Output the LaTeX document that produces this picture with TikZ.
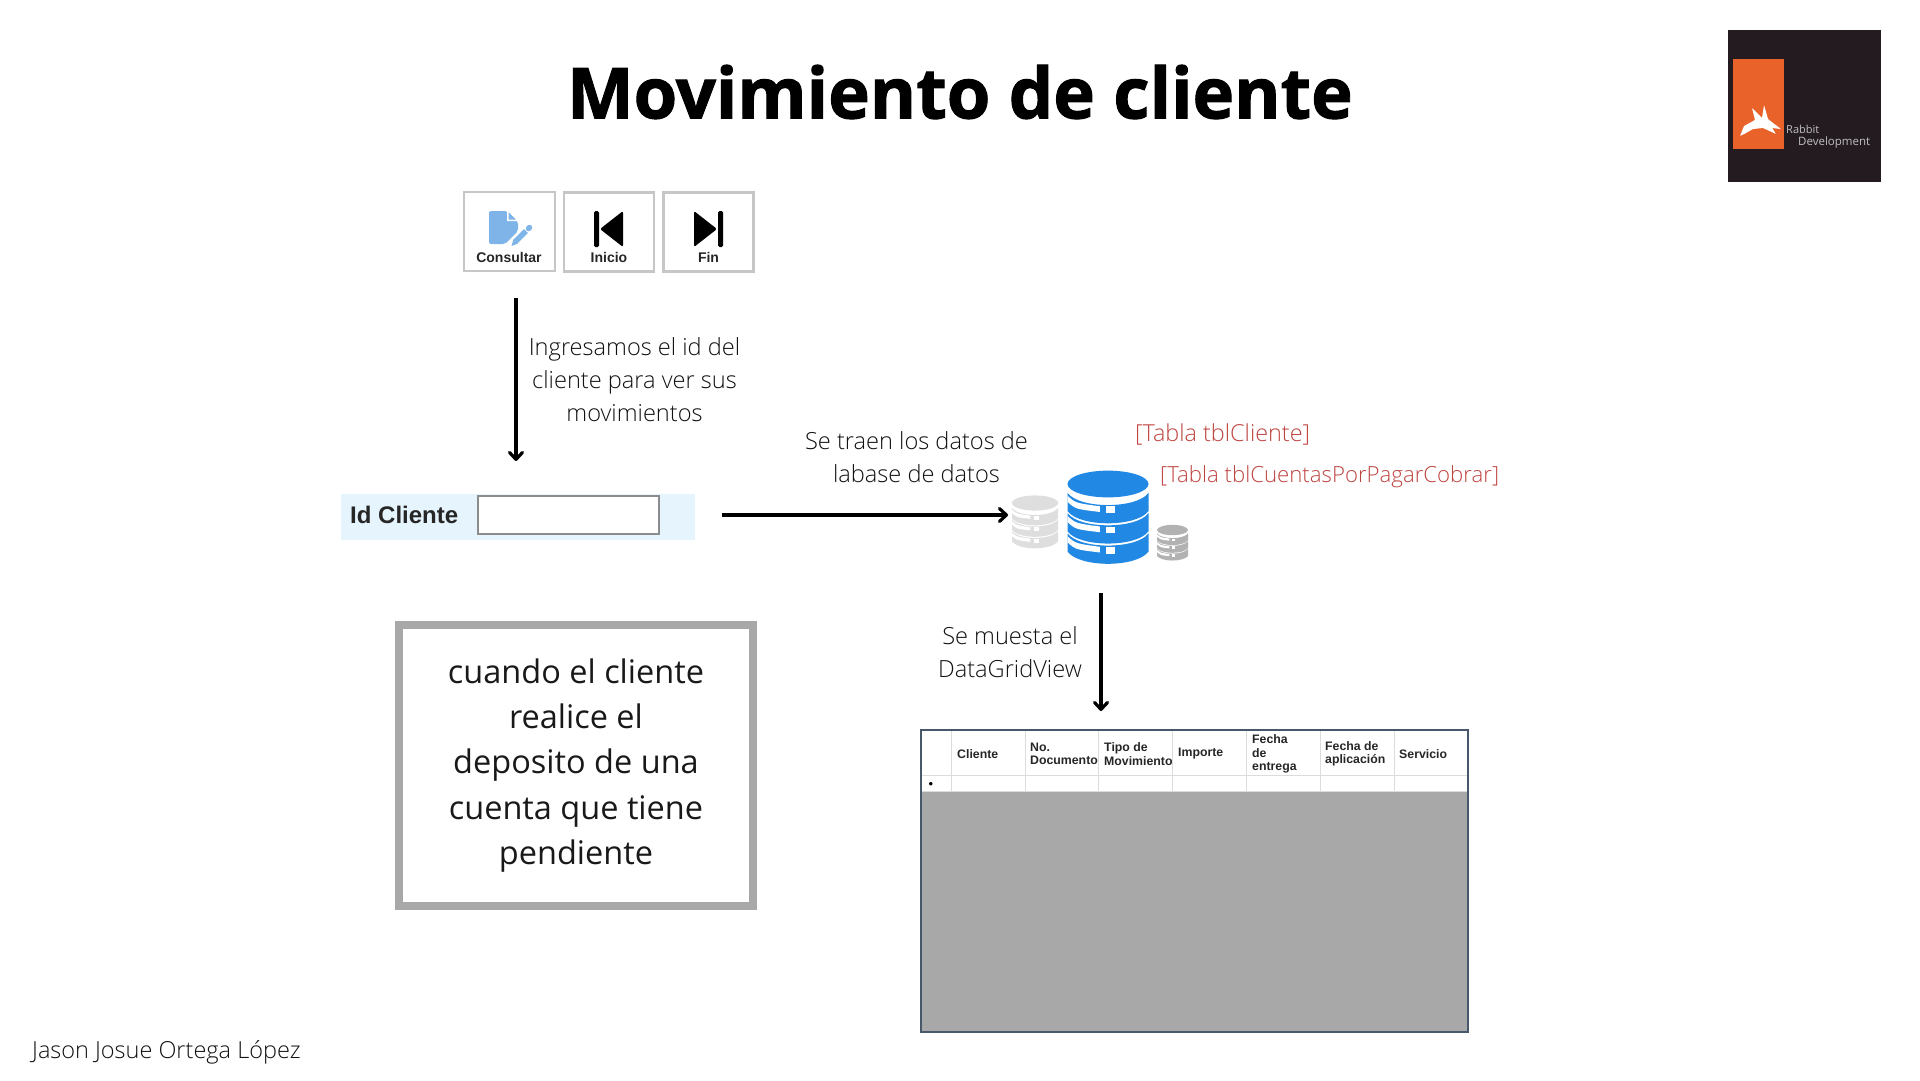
\documentclass[tikz,border=0pt]{standalone}
\usepackage{fontspec}
\setmainfont{Open Sans}
\newfontfamily\lightfont{Open Sans Light}
\newfontfamily\titlefont[BoldFeatures = {FakeBold = 1.4}]{Open Sans}
\newfontfamily\uifont{Liberation Sans}
\usetikzlibrary{arrows.meta}

\definecolor{docblue}{HTML}{7FB4E8}
\definecolor{dbblue}{HTML}{2188E4}
\definecolor{btngray}{HTML}{C6C6C6}
\definecolor{boxgray}{HTML}{A8A8A8}
\definecolor{redlabel}{HTML}{BE4440}
\definecolor{bandblue}{HTML}{E6F4FD}
\definecolor{logodark}{HTML}{241B21}
\definecolor{logoorange}{HTML}{E8622A}
\definecolor{gridgray}{HTML}{DCDCDC}
\definecolor{gridedge}{HTML}{46586A}
\definecolor{textgray}{HTML}{111111}

\tikzset{
	flowarrow/.style = {line width = 3.2pt, -{Straight Barb[round, length = 7pt, width = 13pt]}},
	btnbox/.style = {draw = btngray, line width = 2.5pt, fill = white, minimum width = 90pt, minimum height = 79pt, inner sep = 0pt},
	btnlabel/.style = {font = \uifont\bfseries\fontsize{14}{16}\selectfont, text = black!85, inner sep = 0pt},
	bodytext/.style = {font = \lightfont\fontsize{23.6}{33}\selectfont, text = textgray, align = center, inner sep = 0pt},
	redtext/.style = {font = \lightfont\fontsize{23.4}{33}\selectfont, text = redlabel, anchor = west, inner sep = 0pt},
	hdrtext/.style = {font = \uifont\bfseries\fontsize{12.3}{13.6}\selectfont, text = black!85, align = left, anchor = west, inner sep = 0pt}
}

% cx, top y, half width, colour
\newcommand{\dbstack}[4]{
	\begin{scope}[shift = {(#1,#2)}, x = #3 pt, y = #3 pt]
		\fill[#4] (0,0) ellipse [x radius = 1, y radius = 0.33];
		\foreach \k in {0,1,2} {
			\pgfmathsetmacro{\T}{-0.22-0.5*\k}
			\fill[#4] (-1,\T) .. controls (-0.7,\T-0.4) and (0.7,\T-0.4) .. (1,\T)
				-- (1,\T-0.45) .. controls (0.7,\T-0.85) and (-0.7,\T-0.85) .. (-1,\T-0.45) -- cycle;
			\fill[white] (-1,\T-0.07) .. controls (-0.8,\T-0.25) .. (-0.2,\T-0.33)
				-- (-0.2,\T-0.47) .. controls (-0.8,\T-0.4) .. (-1,\T-0.22) -- cycle;
			\fill[white] (-0.05,\T-0.33) rectangle (0.17,\T-0.5);
		}
	\end{scope}
}

\begin{document}
\begin{tikzpicture}[x = 1pt, y = -1pt]
\useasboundingbox (0,0) rectangle (1920,1080);

\node[font = \titlefont\bfseries\fontsize{70.5}{80}\selectfont, text = black, inner sep = 0pt] (title) at (960,92) {Movimiento de cliente};

% logo
\node[fill = logodark, minimum width = 153pt, minimum height = 152pt, inner sep = 0pt] (logo) at (1804.5,106) {};
\node[fill = logoorange, minimum width = 51pt, minimum height = 90pt, inner sep = 0pt] (logotile) at (1758.5,104) {};
\fill[white, rounded corners = 0.7pt] (1740,136) -- (1744,126) -- (1755,120) -- (1752,108) -- (1762,118) -- (1764,105)
	-- (1768,119) -- (1773,123) -- (1781,129) -- (1772,128) -- (1776,134) -- (1763,128) -- (1753,129) -- (1746,133) -- cycle;
\node[font = \fontsize{11}{13}\selectfont, text = black!25, anchor = west, inner sep = 0pt] (logoa) at (1786,129) {Rabbit};
\node[font = \fontsize{11.5}{13}\selectfont, text = black!25, anchor = west, inner sep = 0pt] (logob) at (1798,143) {Development};

% buttons
\node[btnbox, minimum width = 91pt] (consultar) at (509.5,231.5) {};
\node[btnbox] (inicio) at (609,232) {};
\node[btnbox] (fin) at (708.5,232) {};
\node[btnlabel] (consultarlbl) at (509,257) {Consultar};
\node[btnlabel] (iniciolbl) at (609,257) {Inicio};
\node[btnlabel] (finlbl) at (708.5,257) {Fin};

\fill[docblue, rounded corners = 2pt] (489,211) -- (507,211) -- (518,222) -- (518,231) -- (505,244) -- (489,244) -- cycle;
\fill[white] (507,210) -- (507,221) -- (518,221) -- cycle;
\fill[docblue] (508.5,212) -- (508.5,219.5) -- (516,219.5) -- cycle;
\draw[white, line width = 9pt] (514,243) -- (531,226);
\draw[docblue, line width = 5.5pt] (515.5,241.5) -- (526,231);
\draw[docblue, line width = 5.5pt, line cap = round] (528.5,228.5) -- (529.5,227.5);
\fill[docblue] (511.5,246) -- (513.5,239) -- (518,243.5) -- cycle;

\fill[black, rounded corners = 1.5pt] (594,211) rectangle (599,247);
\fill[black, rounded corners = 2pt] (623,211) -- (623,247) -- (600,229) -- cycle;
\fill[black, rounded corners = 1.5pt] (718,211) rectangle (723,247);
\fill[black, rounded corners = 2pt] (694,211) -- (694,247) -- (717,229) -- cycle;

% id cliente
\node[fill = bandblue, minimum width = 354pt, minimum height = 46pt, inner sep = 0pt] (idband) at (518,517) {};
\node[draw = black!45, line width = 1.5pt, fill = white, minimum width = 181pt, minimum height = 38pt, inner sep = 0pt] (idfield) at (568.5,515) {};
\node[font = \uifont\bfseries\fontsize{24}{26}\selectfont, text = black!85, anchor = west, inner sep = 0pt] (idlabel) at (350,515) {Id Cliente};

% arrows
\coordinate (btnout) at (516,298);
\coordinate (idin) at (516,461);
\coordinate (idout) at (722,515);
\coordinate (dbin) at (1008,515);
\coordinate (dbout) at (1101,593);
\coordinate (gridin) at (1101,711);
\draw[flowarrow] (btnout) -- (idin);
\draw[flowarrow] (idout) -- (dbin);
\draw[flowarrow] (dbout) -- (gridin);

\node[bodytext] (ingresamos) at (634.5,380) {Ingresamos el id del\\cliente para ver sus\\movimientos};
\node[bodytext] (setraen) at (916.5,457) {Se traen los datos de\\labase de datos};
\node[bodytext] (semuesta) at (1010,652) {Se muesta el\\DataGridView};
\node[redtext] (tblcliente) at (1135,434) {[Tabla tblCliente]};
\node[redtext, font = \lightfont\fontsize{22.2}{33}\selectfont] (tblcuentas) at (1160,476.5) {[Tabla tblCuentasPorPagarCobrar]};

% databases
\dbstack{1035}{503}{23}{black!13}
\dbstack{1108}{484}{40.5}{dbblue}
\dbstack{1172.5}{530}{15.5}{black!30}

% note
\node[draw = boxgray, line width = 8pt, minimum width = 354pt, minimum height = 281pt, inner sep = 0pt] (notebox) at (576,765.5) {};
\node[font = \fontsize{32.5}{45.3}\selectfont, text = black!90, align = center, inner sep = 0pt] (notetext) at (576,765.5) {cuando el cliente\\realice el\\deposito de una\\cuenta que tiene\\pendiente};

% grid
\fill[boxgray] (921,791) rectangle (1468,1032);
\draw[gridgray, line width = 1pt] (921,775) -- (1468,775);
\draw[gridgray, line width = 1pt] (921,791) -- (1468,791);
\foreach \i in {951,1025,1098,1172,1246,1320,1394}
	\draw[gridgray, line width = 1pt] (\i,731) -- (\i,791);
\node[draw = gridedge, line width = 1.3pt, minimum width = 547pt, minimum height = 302pt, inner sep = 0pt] (gridbox) at (1194.5,881) {};
\node[font = \uifont\fontsize{13}{13}\selectfont, inner sep = 0pt] (gridrow) at (931,785) {\textbullet};
\foreach \name/\i/\txt in {cli/957/{Cliente}, doc/1030/{No.\\Documento}, tipo/1104/{Tipo de\\Movimiento}, imp/1178/{Importe},
	ent/1252/{Fecha\\de\\entrega}, apl/1325/{Fecha de\\aplicación}, ser/1399/{Servicio}}
	\node[hdrtext] (\name) at (\i,754) {\txt};

\node[font = \lightfont\fontsize{23.5}{28}\selectfont, text = textgray, anchor = west, inner sep = 0pt] (author) at (32,1052.5) {Jason Josue Ortega López};
\end{tikzpicture}
\end{document}
